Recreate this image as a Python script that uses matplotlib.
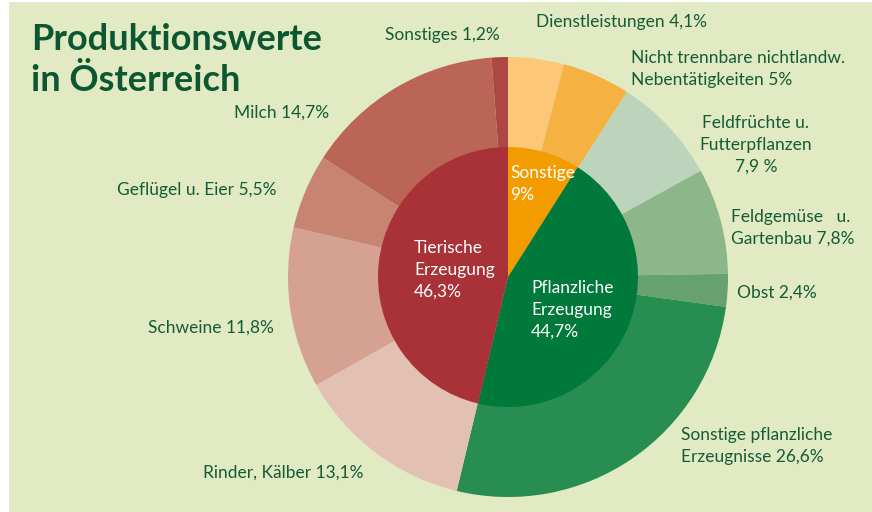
import matplotlib.pyplot as plt
from matplotlib.patches import Rectangle

# data
inner_labels = ["Sonstige\n9%", "Pflanzliche\nErzeugung\n44,7%", "Tierische\nErzeugung\n46,3%"]
inner_vals = [9.0, 44.7, 46.3]
inner_colors = ["#f39c00", "#00793a", "#a83237"]

outer_labels = ["Dienstleistungen 4,1%", "Nicht trennbare nichtlandw.\nNebentätigkeiten 5%",
                "Feldfrüchte u.\nFutterpflanzen\n7,9 %", "Feldgemüse   u.\nGartenbau 7,8%",
                "Obst 2,4%", "Sonstige pflanzliche\nErzeugnisse 26,6%", "Rinder, Kälber 13,1%",
                "Schweine 11,8%", "Geflügel u. Eier 5,5%", "Milch 14,7%", "Sonstiges 1,2%"]
outer_vals = [4.1, 5.0, 7.9, 7.8, 2.4, 26.6, 13.1, 11.8, 5.5, 14.7, 1.2]
outer_colors = ["#fcc878", "#f6b143", "#bdd4bc", "#8db78b", "#66a16f", "#278d50",
                "#e2c1b3", "#d5a192", "#c78473", "#bb6557", "#ad4744"]

W, H = 872, 512
bg = "#e1eac3"
txt = "#145c36"

plt.rcParams['font.family'] = ['Lato', 'DejaVu Sans']

fig = plt.figure(figsize=(W / 100, H / 100), dpi=100, facecolor="white")
fig.patches.append(Rectangle((9 / W, 0), 1, 1 - 2 / H, transform=fig.transFigure,
                             facecolor=bg, edgecolor="none", zorder=-1))
ax = fig.add_axes([0, 0, 1, 1])

cx, cy = 508, H - 277
ax.pie(outer_vals, radius=220, center=(cx, cy), startangle=90, counterclock=False,
       colors=outer_colors, wedgeprops=dict(linewidth=0))
ax.pie(inner_vals, radius=130, center=(cx, cy), startangle=90, counterclock=False,
       colors=inner_colors, wedgeprops=dict(linewidth=0))
ax.set_xlim(0, W)
ax.set_ylim(0, H)
ax.set_axis_off()

ax.text(31, H - 60, "Produktionswerte\nin Österreich", fontsize=26, fontweight="bold",
        color="#0c5631", va="center", ha="left", linespacing=1.28)

# outer labels: (x, y, ha, multialign)
outer_pos = [(536, 22, "left", "left"), (631, 69, "left", "left"),
             (756, 145, "center", "center"), (731, 228, "left", "left"),
             (737, 293, "left", "left"), (681, 446, "left", "left"),
             (363, 473, "right", "right"), (274, 328, "right", "right"),
             (276, 190, "right", "right"), (329, 113, "right", "right"),
             (500, 35, "right", "right")]
for lab, (x, y, ha, ma) in zip(outer_labels, outer_pos):
    ax.text(x, H - y, lab, fontsize=12.5, color=txt, ha=ha, va="center",
            multialignment=ma, linespacing=1.45)

inner_pos = [(510, 184), (531, 310), (414, 270)]
for lab, (x, y) in zip(inner_labels, inner_pos):
    ax.text(x, H - y, lab, fontsize=12.5, color="white", ha="left", va="center",
            linespacing=1.45)

fig.savefig("out.png", dpi=100, facecolor=fig.get_facecolor())
